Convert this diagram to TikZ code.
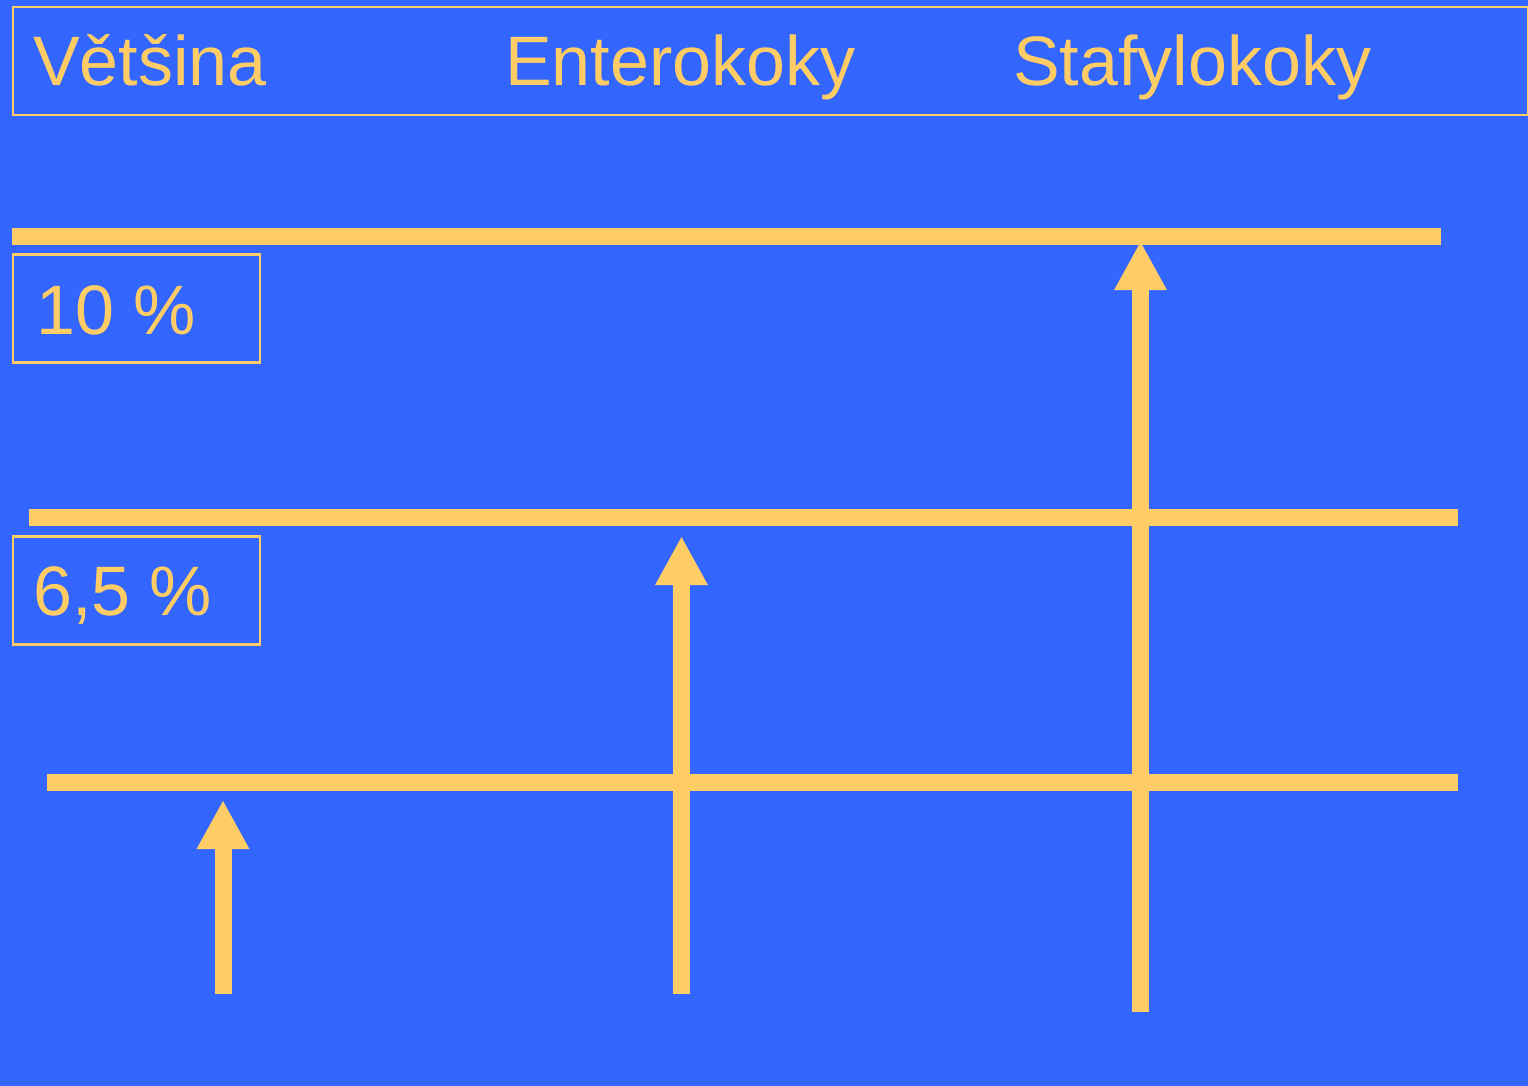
\documentclass[tikz,border=0pt]{standalone}
\usepackage{fontspec}
\setmainfont{Liberation Sans}
\usetikzlibrary{arrows.meta}
\definecolor{bg}{HTML}{3366FF}
\definecolor{ylw}{HTML}{FFCC66}
\tikzset{
  lbl/.style={text=ylw, font=\fontsize{70}{80}\selectfont, anchor=base west, inner sep=0pt},
  framebox/.style={draw=ylw, line width=2.5pt, inner sep=0pt},
  bar/.style={draw=ylw, line width=17pt, line cap=butt},
  uparrow/.style={draw=ylw, line width=17pt, line cap=butt, -{Triangle[width=49pt,length=49pt]}}
}
\begin{document}
\begin{tikzpicture}[x=1pt,y=-1pt]
\fill[bg] (0,0) rectangle (1528,1086);
\useasboundingbox (0,0) rectangle (1528,1086);
% header box
\node[framebox, minimum width=1515pt, minimum height=108pt, anchor=north west] (hdr) at (11.5,6) {};
\node[lbl] (t1) at (33,86) {Většina};
\node[lbl] (t2) at (505,86) {Enterokoky};
\node[lbl] (t3) at (1013,86) {Stafylokoky};
% horizontal lines
\coordinate (l1a) at (12,236); \coordinate (l1b) at (1441,236);
\coordinate (l2a) at (29,517.5); \coordinate (l2b) at (1458,517.5);
\coordinate (l3a) at (47,782.5); \coordinate (l3b) at (1458,782.5);
\draw[bar] (l1a) -- (l1b);
\draw[bar] (l2a) -- (l2b);
\draw[bar] (l3a) -- (l3b);
% percent boxes
\node[framebox, minimum width=247pt, minimum height=108pt, anchor=north west] (b10) at (11.5,253) {};
\node[lbl] (p10) at (36,334) {10 \%};
\node[framebox, minimum width=247pt, minimum height=108pt, anchor=north west] (b65) at (11.5,535) {};
\node[lbl] (p65) at (33,615) {6,5 \%};
% arrows
\coordinate (a1s) at (223,994); \coordinate (a1e) at (223,800);
\coordinate (a2s) at (681.5,994); \coordinate (a2e) at (681.5,536);
\coordinate (a3s) at (1140.5,1012); \coordinate (a3e) at (1140.5,241);
\draw[uparrow] (a1s) -- (a1e);
\draw[uparrow] (a2s) -- (a2e);
\draw[uparrow] (a3s) -- (a3e);
\end{tikzpicture}
\end{document}
